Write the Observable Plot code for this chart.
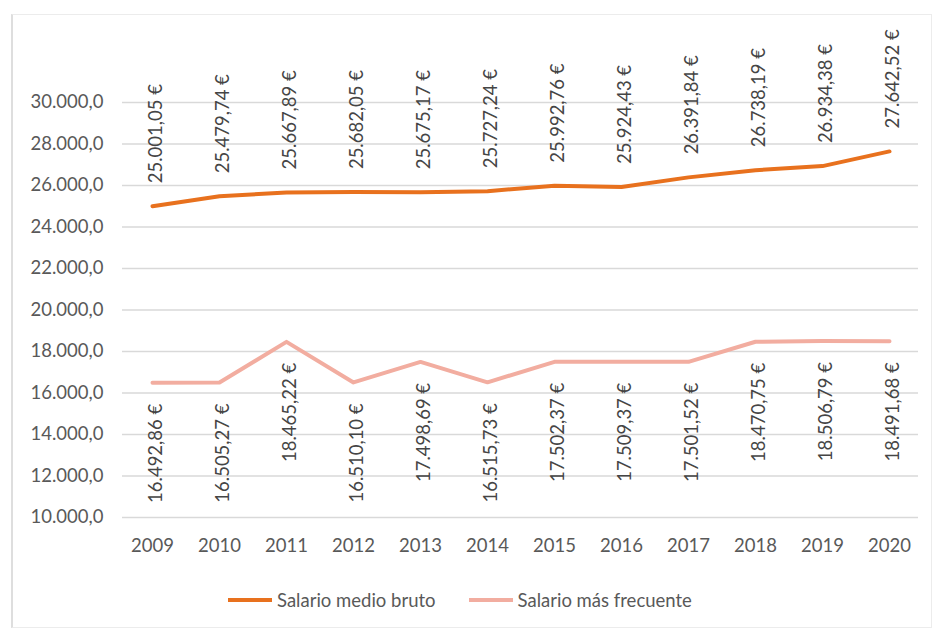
<!DOCTYPE html>
<html><head><meta charset="utf-8">
<script src="https://cdn.jsdelivr.net/npm/d3@7"></script>
<script src="https://cdn.jsdelivr.net/npm/@observablehq/plot@0.6"></script>
<style>
body{margin:0;background:#fff;font-family:Lato,sans-serif;}
#wrap{position:relative;width:938px;height:631px;overflow:hidden;}
#frame{position:absolute;left:11px;top:14px;width:918px;height:612px;border:1px solid #ececec;border-left:2px solid #dedede;}
#chart{position:absolute;left:0;top:0;}
#legend{position:absolute;top:589px;left:228px;display:flex;align-items:center;font-size:18.5px;color:#595959;white-space:nowrap;}
.sw{display:inline-block;width:44px;height:4px;margin-right:5px;}
</style></head>
<body>
<div id="wrap"><div id="frame"></div><div id="chart"></div>
<div id="legend"><span class="sw" style="background:#E8711E"></span><span>Salario medio bruto</span><span style="display:inline-block;width:33px"></span><span class="sw" style="background:#F2ADA0"></span><span>Salario más frecuente</span></div>
</div>
<script>
const years = [2009, 2010, 2011, 2012, 2013, 2014, 2015, 2016, 2017, 2018, 2019, 2020];
const medio = [25001.05, 25479.74, 25667.89, 25682.05, 25675.17, 25727.24, 25992.76, 25924.43, 26391.84, 26738.19, 26934.38, 27642.52];
const frecuente = [16492.86, 16505.27, 18465.22, 16510.10, 17498.69, 16515.73, 17502.37, 17509.37, 17501.52, 18470.75, 18506.79, 18491.68];
const yTicks = [10000, 12000, 14000, 16000, 18000, 20000, 22000, 24000, 26000, 28000, 30000];

const locale = d3.formatLocale({decimal: ",", thousands: ".", grouping: [3], currency: ["", " €"]});
const fTick = locale.format(",.1f");
const f2 = locale.format(",.2f");
const rows = years.map((y, i) => ({year: y, medio: medio[i], frecuente: frecuente[i]}));

const chart = Plot.plot({
  width: 938, height: 570,
  marginLeft: 122, marginRight: 20, marginTop: 102, marginBottom: 53,
  style: {fontFamily: "Lato, sans-serif", fontSize: "18.5px", color: "#595959", background: "transparent"},
  x: {type: "point", domain: years, padding: 0.43, label: null, tickSize: 0, tickPadding: 21, tickFormat: d => String(d)},
  y: {domain: [10000, 30000], ticks: yTicks, tickFormat: fTick, tickSize: 0, tickPadding: 19, label: null},
  marks: [
    Plot.ruleY(yTicks, {stroke: "#d9d9d9", strokeWidth: 1.5}),
    Plot.line(rows, {x: "year", y: "frecuente", stroke: "#F2ADA0", strokeWidth: 4}),
    Plot.line(rows, {x: "year", y: "medio", stroke: "#E8711E", strokeWidth: 4}),
    Plot.text(rows, {x: "year", y: "medio", text: d => f2(d.medio) + " €", rotate: -90, textAnchor: "start", dy: -23, dx: 4, fill: "#454545", fontSize: 18.5}),
    Plot.text(rows, {x: "year", y: "frecuente", text: d => f2(d.frecuente) + " €", rotate: -90, textAnchor: "end", dy: 21, dx: 4, fill: "#454545", fontSize: 18.5})
  ]
});
document.getElementById("chart").appendChild(chart);
</script>
</body></html>
